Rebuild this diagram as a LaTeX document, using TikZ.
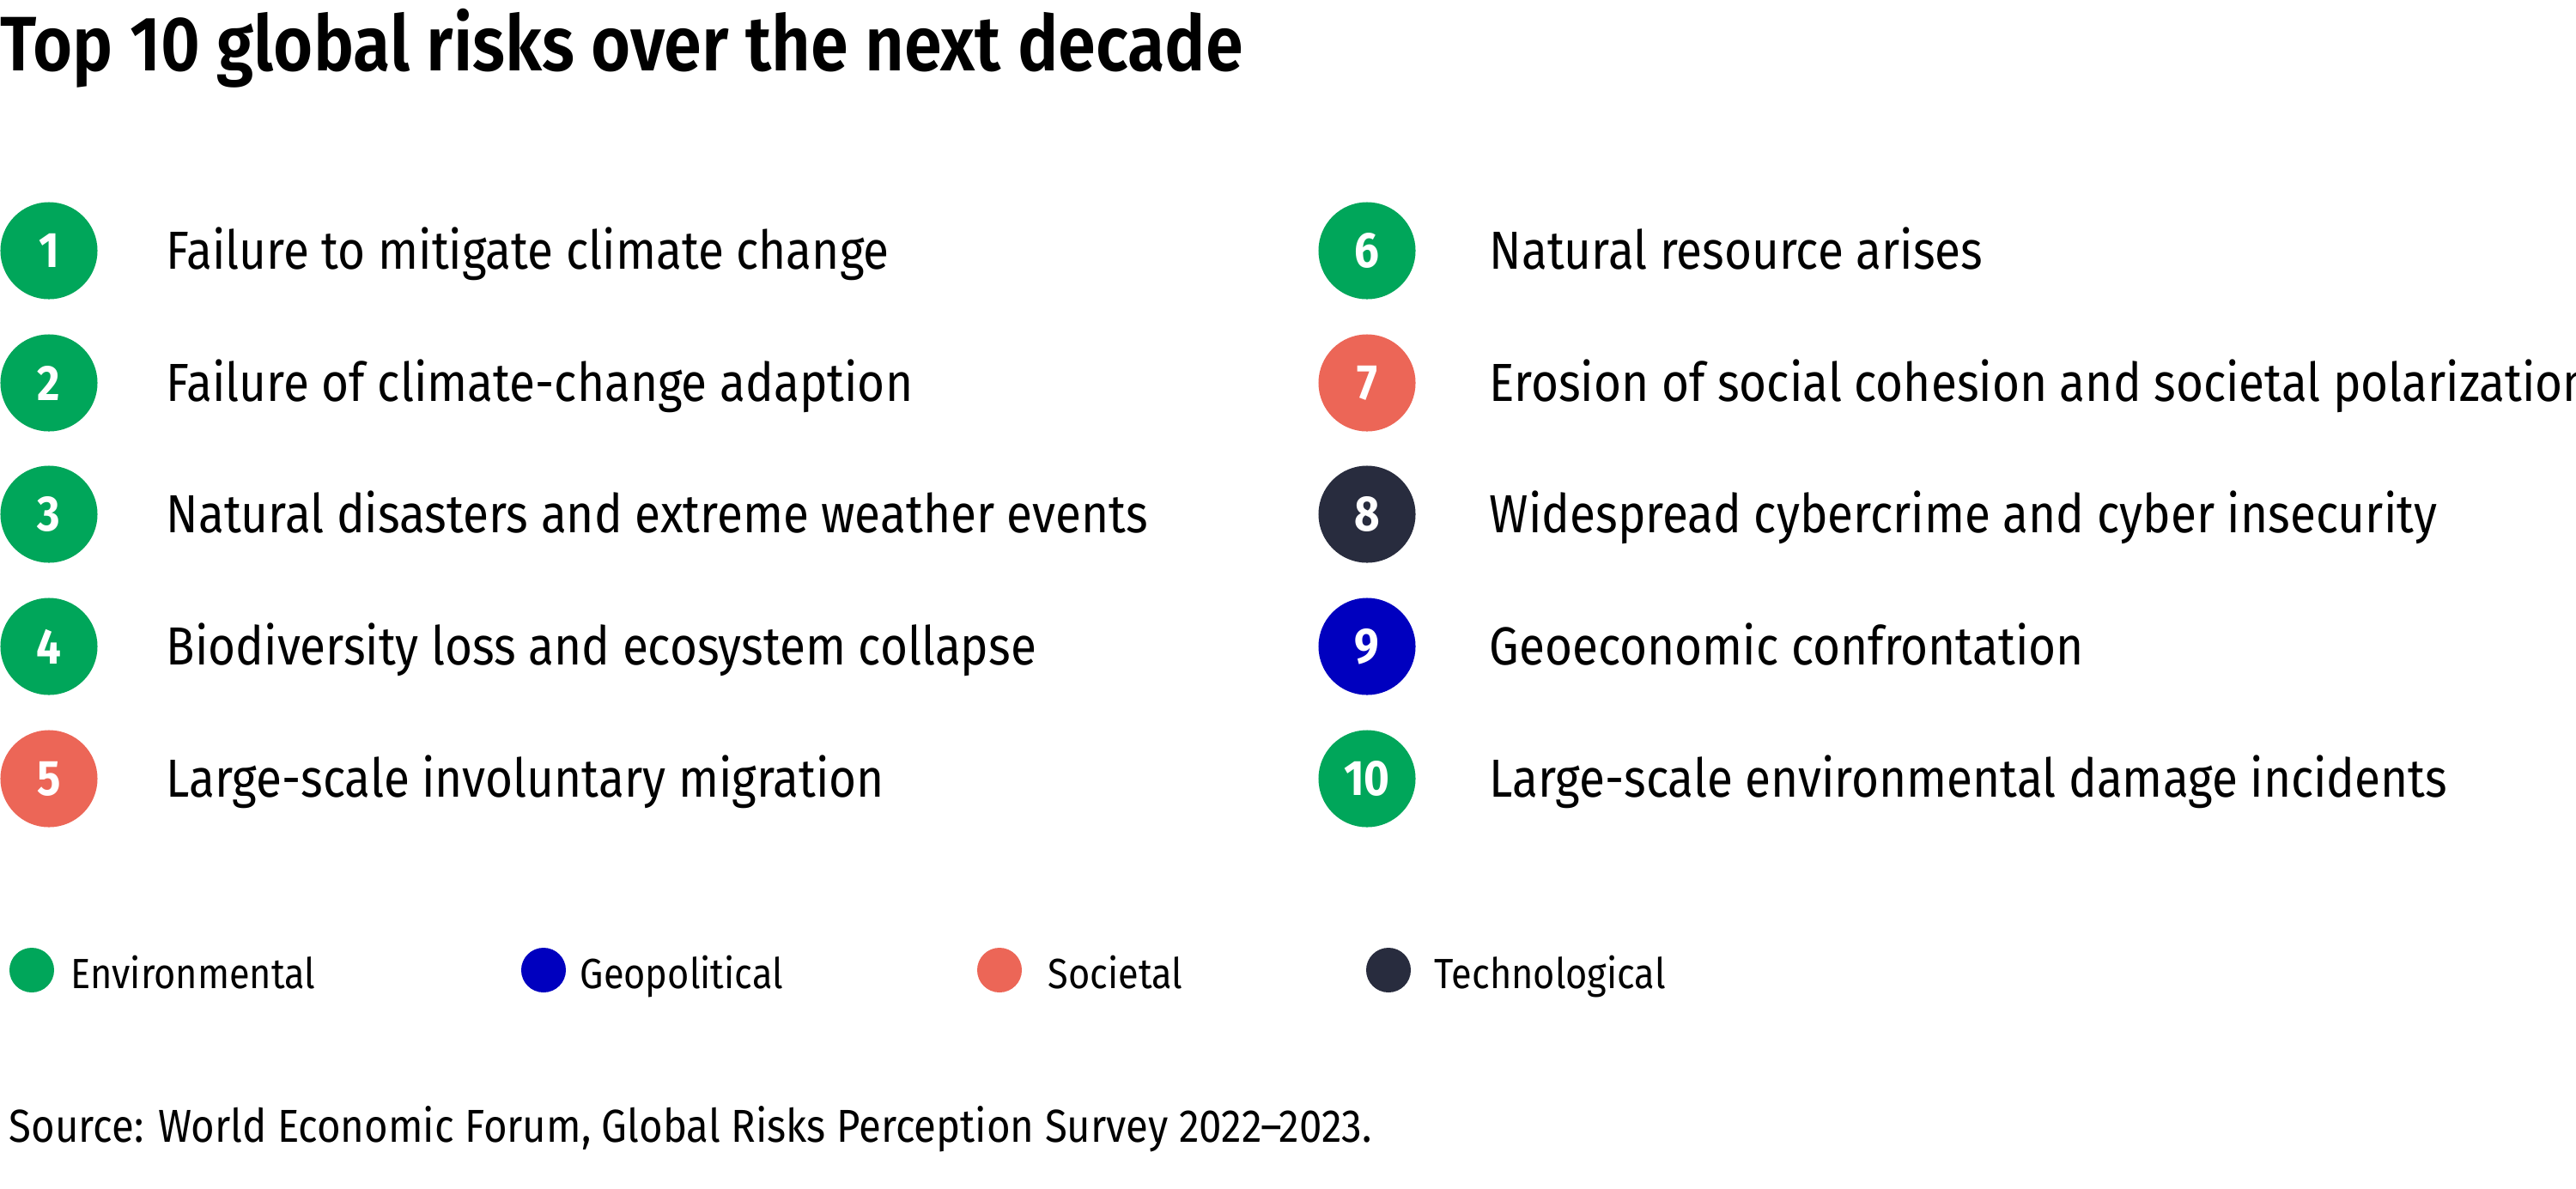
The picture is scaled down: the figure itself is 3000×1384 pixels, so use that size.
\documentclass[tikz,border=0pt]{standalone}
\usepackage{fontspec}
\setmainfont{Fira Sans}[FakeStretch=0.88]
\newfontfamily\headfont{Fira Sans SemiBold}[FakeStretch=0.88]
\definecolor{envgreen}{HTML}{00A65A}
\definecolor{socred}{HTML}{EC6657}
\definecolor{technavy}{HTML}{282C3E}
\definecolor{geoblue}{HTML}{0000BF}
\begin{document}
\begin{tikzpicture}[x=0.01cm,y=-0.01cm,
  riskdot/.style={circle,minimum size=1.13cm,inner sep=0pt,text=white,font=\fontsize{16.5}{18}\selectfont\bfseries},
  risktext/.style={anchor=base west,inner sep=0pt,font=\fontsize{17.75}{20}\selectfont},
  keydot/.style={circle,minimum size=0.52cm,inner sep=0pt},
  keytext/.style={anchor=base west,inner sep=0pt,font=\fontsize{14}{16}\selectfont}]
\useasboundingbox (0,0) rectangle (3000,1384);
\node [anchor=base west,inner sep=0pt,font=\fontsize{25.6}{28}\selectfont\headfont] (title) at (0,82) {Top 10 global risks over the next decade};
\node [riskdot,fill=envgreen] (n1) at (57,292) {1};
\node [riskdot,fill=envgreen] (n2) at (57,446) {2};
\node [riskdot,fill=envgreen] (n3) at (57,599) {3};
\node [riskdot,fill=envgreen] (n4) at (57,753) {4};
\node [riskdot,fill=socred] (n5) at (57,907) {5};
\node [riskdot,fill=envgreen] (n6) at (1592,292) {6};
\node [riskdot,fill=socred] (n7) at (1592,446) {7};
\node [riskdot,fill=technavy] (n8) at (1592,599) {8};
\node [riskdot,fill=geoblue] (n9) at (1592,753) {9};
\node [riskdot,fill=envgreen] (n10) at (1592,907) {10};
\node [risktext] (t1) at (193,313) {Failure to mitigate climate change};
\node [risktext] (t2) at (193,467) {Failure of climate-change adaption};
\node [risktext] (t3) at (193,620) {Natural disasters and extreme weather events};
\node [risktext] (t4) at (193,774) {Biodiversity loss and ecosystem collapse};
\node [risktext] (t5) at (193,928) {Large-scale involuntary migration};
\node [risktext] (t6) at (1734,313) {Natural resource arises};
\node [risktext] (t7) at (1734,467) {Erosion of social cohesion and societal polarization};
\node [risktext] (t8) at (1734,620) {Widespread cybercrime and cyber insecurity};
\node [risktext] (t9) at (1734,774) {Geoeconomic confrontation};
\node [risktext] (t10) at (1734,928) {Large-scale environmental damage incidents};
\node [keydot,fill=envgreen] (k1) at (37,1130) {};
\node [keydot,fill=geoblue] (k2) at (633,1130) {};
\node [keydot,fill=socred] (k3) at (1164,1130) {};
\node [keydot,fill=technavy] (k4) at (1617,1130) {};
\node [keytext] (l1) at (82,1151) {Environmental};
\node [keytext] (l2) at (675,1151) {Geopolitical};
\node [keytext] (l3) at (1220,1151) {Societal};
\node [keytext] (l4) at (1670,1151) {Technological};
\node [keytext,font=\fontsize{15.3}{17}\selectfont] (src) at (10,1330) {Source: World Economic Forum, Global Risks Perception Survey 2022--2023.};
\end{tikzpicture}
\end{document}
